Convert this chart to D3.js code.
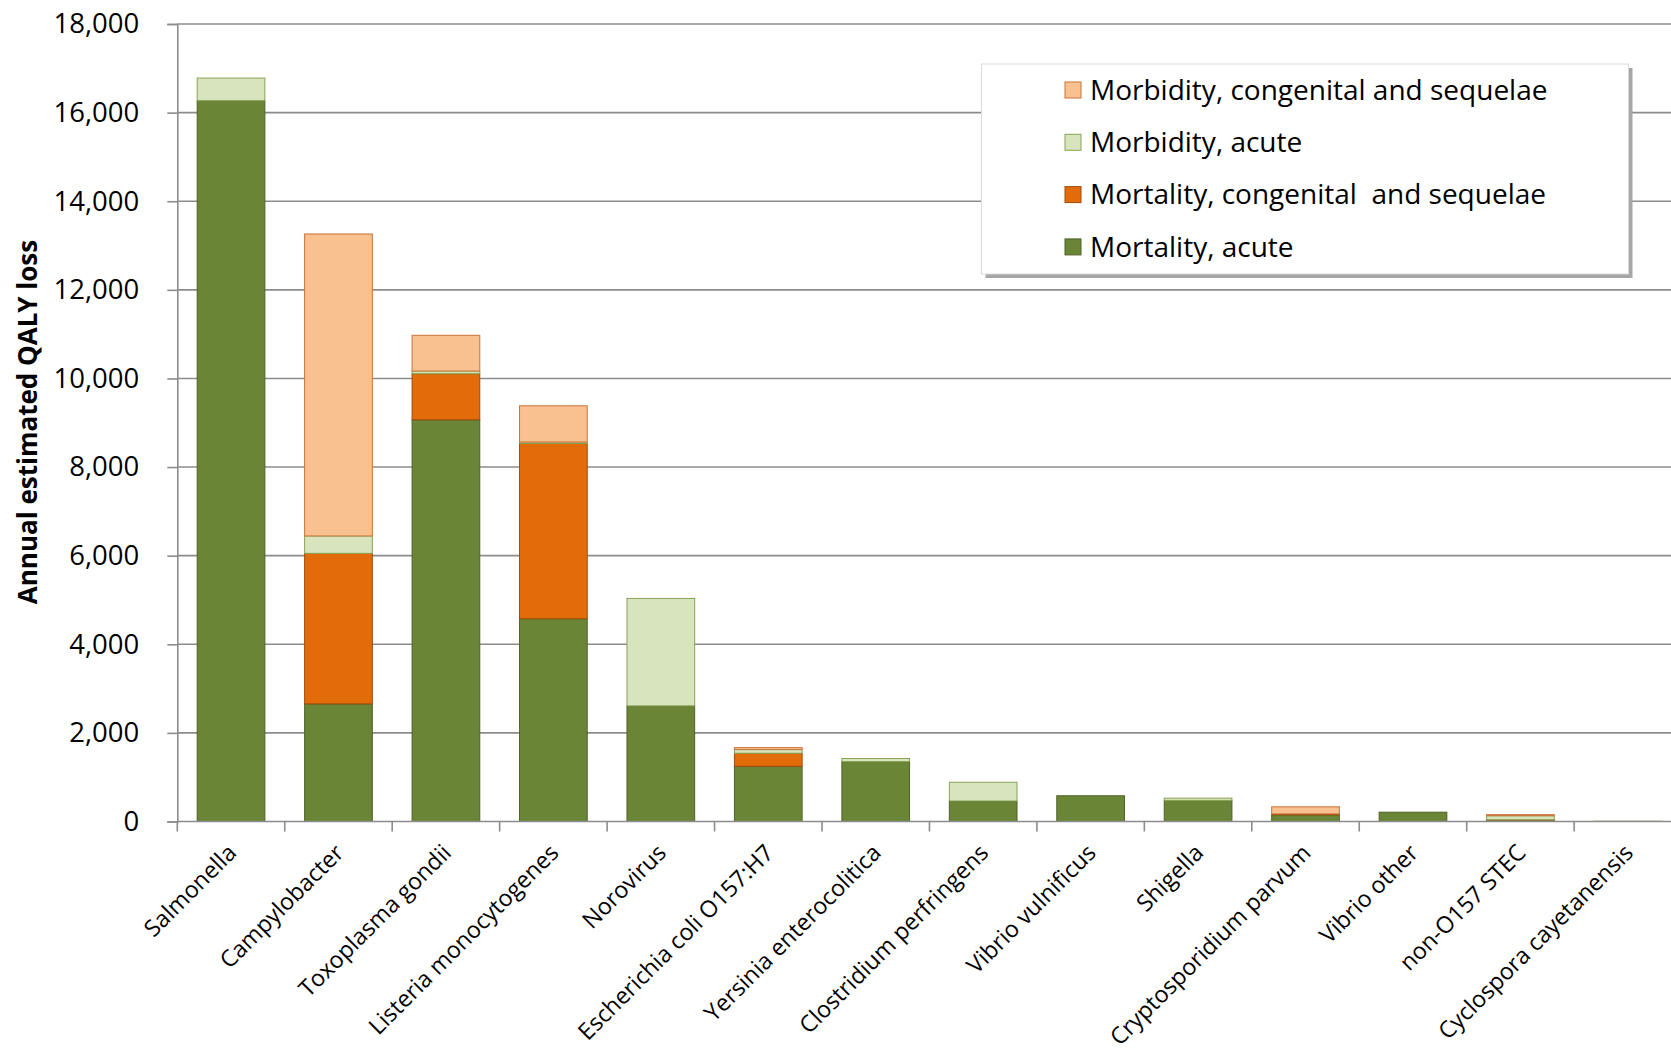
<!DOCTYPE html>
<html>
<head>
<meta charset="utf-8">
<script src="https://cdn.jsdelivr.net/npm/d3@7"></script>
<style>
  body { margin: 0; background: #fff; }
  svg { display: block; font-family: "Open Sans", "Noto Sans", sans-serif; }
</style>
</head>
<body>
<svg id="chart" width="1671" height="1051"></svg>
<script>
// data
var categories = ['Salmonella', 'Campylobacter', 'Toxoplasma gondii', 'Listeria monocytogenes',
    'Norovirus', 'Escherichia coli O157:H7', 'Yersinia enterocolitica', 'Clostridium perfringens',
    'Vibrio vulnificus', 'Shigella', 'Cryptosporidium parvum', 'Vibrio other', 'non-O157 STEC',
    'Cyclospora cayetanensis'];
var mortAcute = [16270, 2655, 9067, 4576, 2610, 1247, 1352, 463, 581, 475, 151, 210, 30, 2];
var mortCong  = [0, 3397, 1040, 3960, 0, 294, 0, 0, 0, 0, 20, 0, 10, 0];
var morbAcute = [510, 393, 60, 30, 2425, 82, 70, 423, 0, 52, 0, 0, 90, 2];
var morbCong  = [0, 6816, 807, 817, 0, 45, 0, 0, 0, 0, 160, 0, 25, 0];
var seriesNames = ['Mortality, acute', 'Mortality, congenital  and sequelae', 'Morbidity, acute', 'Morbidity, congenital and sequelae'];
var yTicks = [0, 2000, 4000, 6000, 8000, 10000, 12000, 14000, 16000, 18000];

var fills   = ['#6b8536', '#e36c0a', '#d7e4bd', '#f9c090'];
var strokes = ['#4f6228', '#a04a08', '#8aa255', '#c8743a'];

var width = 1671, height = 1051;
var margin = {top: 24, bottom: 230, left: 177.3};
var plotRight = 1681.6; // plot runs past the picture edge, like the original

var svg = d3.select('#chart');

var keys = ['ma', 'mc', 'ba', 'bc'];
var rows = categories.map((c, i) => ({cat: c, ma: mortAcute[i], mc: mortCong[i], ba: morbAcute[i], bc: morbCong[i]}));
var stacked = d3.stack().keys(keys)(rows);

//scales
var xScale = d3.scaleBand()
    .domain(categories)
    .range([margin.left, plotRight])
    .paddingInner(0.37)
    .paddingOuter(0.185);
var yScale = d3.scaleLinear()
    .domain([0, 18000])
    .range([height - margin.bottom + 0.5, margin.top]);

// gridlines
svg.append('g')
    .selectAll('line')
    .data(yTicks.slice(1))
    .enter().append('line')
    .attr('x1', margin.left)
    .attr('x2', width)
    .attr('y1', d => yScale(d))
    .attr('y2', d => yScale(d))
    .attr('stroke', '#8c8c8c')
    .attr('stroke-width', 1.6);

// bars
svg.append('g')
    .selectAll('g')
    .data(stacked)
    .enter().append('g')
    .attr('fill', (d, i) => fills[i])
    .attr('stroke', (d, i) => strokes[i])
    .selectAll('rect')
    .data(d => d.filter(s => s[1] - s[0] > 0))
    .enter().append('rect')
    .attr('x', d => xScale(d.data.cat))
    .attr('width', xScale.bandwidth())
    .attr('y', d => yScale(d[1]))
    .attr('height', d => yScale(d[0]) - yScale(d[1]))
    .attr('stroke-width', 1);

// y axis
var yAxis = d3.axisLeft(yScale)
    .tickValues(yTicks)
    .tickFormat(d3.format(','))
    .tickSize(10)
    .tickPadding(28);
var yg = svg.append('g')
    .attr('transform', 'translate(' + [margin.left, 0] + ')')
    .call(yAxis);
yg.select('.domain').attr('stroke', '#8c8c8c').attr('stroke-width', 1.6);
yg.selectAll('.tick line').attr('stroke', '#8c8c8c').attr('stroke-width', 1.6);
yg.selectAll('.tick text')
    .attr('fill', '#000')
    .style('font-size', '27.5px')
    .style('font-family', '"Open Sans", sans-serif');

// x axis: ticks at the category boundaries
var step = xScale.step();
var xBase = yScale(0);
svg.append('line')
    .attr('x1', margin.left).attr('x2', width)
    .attr('y1', xBase).attr('y2', xBase)
    .attr('stroke', '#8c8c8c').attr('stroke-width', 1.6);
svg.append('g')
    .selectAll('line')
    .data(d3.range(categories.length + 1))
    .enter().append('line')
    .attr('x1', i => margin.left + i * step)
    .attr('x2', i => margin.left + i * step)
    .attr('y1', xBase)
    .attr('y2', xBase + 10)
    .attr('stroke', '#8c8c8c')
    .attr('stroke-width', 1.6);

// rotated category labels
svg.append('g')
    .selectAll('text')
    .data(categories)
    .enter().append('text')
    .attr('transform', d => 'translate(' + [xScale(d) + xScale.bandwidth() / 2 + 1, xBase + 27] + ') rotate(-45)')
    .attr('text-anchor', 'end')
    .attr('dy', '0.35em')
    .style('font-size', '23.2px')
    .text(d => d);

// y axis title
svg.append('text')
    .attr('transform', 'translate(' + [37, 422] + ') rotate(-90)')
    .attr('text-anchor', 'middle')
    .style('font-size', '26px')
    .style('font-weight', 'bold')
    .text('Annual estimated QALY loss');

// legend (top to bottom reverses the stack)
var lg = svg.append('g');
lg.append('rect')
    .attr('x', 985.5).attr('y', 68)
    .attr('width', 647).attr('height', 210)
    .attr('fill', '#a6a6a6');
lg.append('rect')
    .attr('x', 981.5).attr('y', 64)
    .attr('width', 647).attr('height', 210)
    .attr('fill', '#fff')
    .attr('stroke', '#d9d9d9');
var legendOrder = [3, 2, 1, 0];
var items = lg.selectAll('g.item')
    .data(legendOrder)
    .enter().append('g')
    .attr('class', 'item')
    .attr('transform', (d, i) => 'translate(' + [1065, 90 + i * 52.3] + ')');
items.append('rect')
    .attr('x', 0).attr('y', -8)
    .attr('width', 16).attr('height', 16)
    .attr('fill', d => fills[d])
    .attr('stroke', d => strokes[d]);
items.append('text')
    .attr('x', 25)
    .attr('dy', '0.35em')
    .style('font-size', '28px')
    .style('white-space', 'pre')
    .text(d => seriesNames[d]);
</script>
</body>
</html>
